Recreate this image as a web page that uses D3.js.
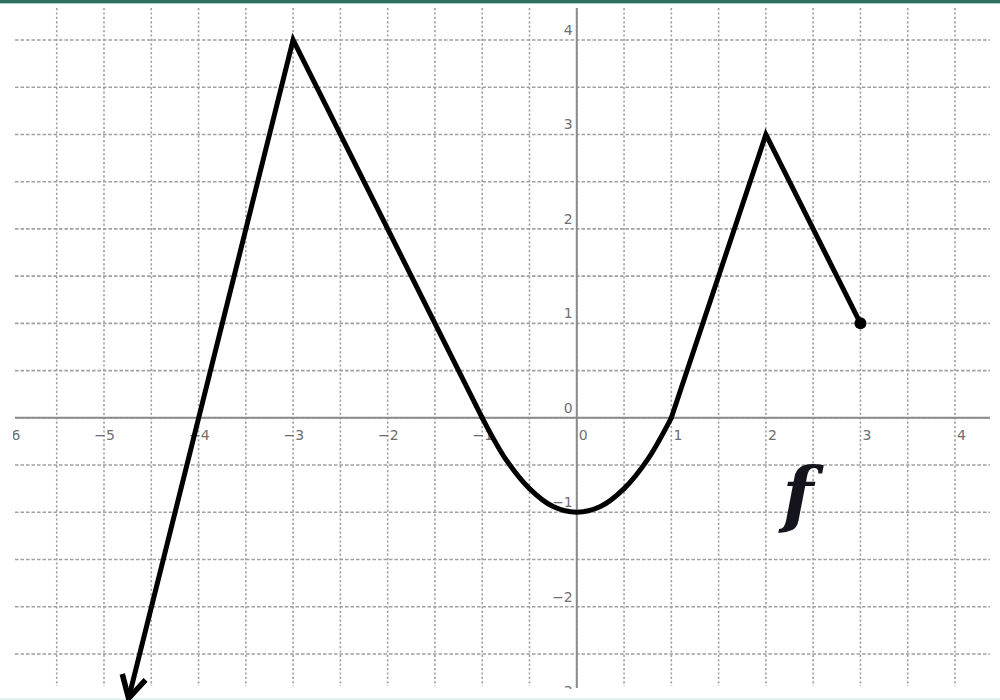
<!DOCTYPE html>
<html>
<head>
<meta charset="utf-8">
<script src="https://cdn.jsdelivr.net/npm/d3@7"></script>
<style>
  html, body { margin: 0; padding: 0; background: #fff; }
  svg { display: block; }
  .flabel { font-family: 'DejaVu Serif', serif; font-style: italic; font-weight: bold; }
</style>
</head>
<body>
<svg id="chart" width="1000" height="700"></svg>
<script>
// ---- data ----
const xTickValues = [-6, -5, -4, -3, -2, -1, 0, 1, 2, 3, 4];
const yTickValues = [-3, -2, -1, 0, 1, 2, 3, 4];
const xGridValues = [-5.5, -5, -4.5, -4, -3.5, -3, -2.5, -2, -1.5, -1, -0.5, 0, 0.5, 1, 1.5, 2, 2.5, 3, 3.5, 4];
const yGridValues = [-2.5, -2, -1.5, -1, -0.5, 0, 0.5, 1, 1.5, 2, 2.5, 3, 3.5, 4];
// piecewise pieces of f
const leftLine = [[-4.74, -2.97], [-3, 4], [-1, 0]];           // arrow end, peak, root
const parabola = [[-1, 0], [-0.75, -0.44], [-0.5, -0.75], [-0.25, -0.94], [0, -1],
                  [0.25, -0.94], [0.5, -0.75], [0.75, -0.44], [1, 0]];
const rightLine = [[1, 0], [2, 3], [3, 1]];
const endPoint = [3, 1];
const fnLabel = "f";

// ---- scales ----
const svg = d3.select("#chart");
const x = d3.scaleLinear().domain([-5, 4]).range([104, 955]);
const y = d3.scaleLinear().domain([-2, 4]).range([606.7, 40]);

// clip for labels
svg.append("clipPath").attr("id", "clipL").append("rect")
  .attr("x", 13).attr("y", 0).attr("width", 987).attr("height", 689);

// grid
const grid = svg.append("g");
grid.selectAll("line.v").data(xGridValues).join("line")
  .attr("x1", d => x(d)).attr("x2", d => x(d))
  .attr("y1", 8).attr("y2", 686)
  .attr("stroke", "#a0a0a0").attr("stroke-width", 1.6)
  .attr("stroke-dasharray", "2.2,2.2");
grid.selectAll("line.h").data(yGridValues).join("line")
  .attr("y1", d => y(d)).attr("y2", d => y(d))
  .attr("x1", 15).attr("x2", 990)
  .attr("stroke", "#a0a0a0").attr("stroke-width", 1.6)
  .attr("stroke-dasharray", "3.5,2");

// axes
svg.append("line").attr("x1", 15).attr("x2", 990).attr("y1", y(0)).attr("y2", y(0))
  .attr("stroke", "#8a8a8a").attr("stroke-width", 2);
svg.append("line").attr("x1", x(0)).attr("x2", x(0)).attr("y1", 8).attr("y2", 688)
  .attr("stroke", "#8a8a8a").attr("stroke-width", 2);

// tick labels
const lbl = svg.append("g").attr("clip-path", "url(#clipL)")
  .attr("font-family", "DejaVu Sans, sans-serif").attr("font-size", 14).attr("fill", "#6e6e6e");
lbl.selectAll("text.xl").data(xTickValues).join("text")
  .attr("x", d => x(d) + 11).attr("y", y(0) + 22)
  .attr("text-anchor", "end")
  .text(d => d < 0 ? "\u2212" + Math.abs(d) : String(d));
lbl.selectAll("text.yl").data(yTickValues).join("text")
  .attr("x", x(0) - 4).attr("y", d => y(d) - 5)
  .attr("text-anchor", "end")
  .text(d => d < 0 ? "\u2212" + Math.abs(d) : String(d));

// top / bottom frame
svg.append("rect").attr("x", 0).attr("y", 0).attr("width", 1000).attr("height", 3).attr("fill", "#2f6f62");
svg.append("rect").attr("x", 0).attr("y", 3).attr("width", 1000).attr("height", 1).attr("fill", "#a9cfc6");
svg.append("rect").attr("x", 0).attr("y", 698).attr("width", 1000).attr("height", 2).attr("fill", "#e3f3ef");

// arrow marker
const defs = svg.append("defs");
defs.append("marker").attr("id", "arrow")
  .attr("viewBox", "-28 -18 32 36").attr("refX", 0).attr("refY", 0)
  .attr("markerWidth", 32).attr("markerHeight", 36).attr("markerUnits", "userSpaceOnUse")
  .attr("orient", "auto-start-reverse")
  .append("path").attr("d", "M-22,-12 L0,0 L-22,12")
  .attr("fill", "none").attr("stroke", "#000").attr("stroke-width", 5.5)
  .attr("stroke-linecap", "butt").attr("stroke-linejoin", "miter");

// function curve
const lin = d3.line().x(d => x(d[0])).y(d => y(d[1]));
const smooth = d3.line().x(d => x(d[0])).y(d => y(d[1])).curve(d3.curveCatmullRom);
const fg = svg.append("g").attr("fill", "none").attr("stroke", "#000")
  .attr("stroke-width", 5).attr("stroke-linejoin", "miter").attr("stroke-linecap", "round");
fg.append("path").attr("d", lin(leftLine)).attr("marker-start", "url(#arrow)");
fg.append("path").attr("d", smooth(parabola));
fg.append("path").attr("d", lin(rightLine));

svg.append("circle").attr("cx", x(endPoint[0])).attr("cy", y(endPoint[1])).attr("r", 6).attr("fill", "#000");

// function label
svg.append("text").attr("class", "flabel").attr("x", 798).attr("y", 520)
  .attr("text-anchor", "middle")
  .attr("font-size", 72).attr("fill", "#14141c")
  .text(fnLabel);
</script>
</body>
</html>
